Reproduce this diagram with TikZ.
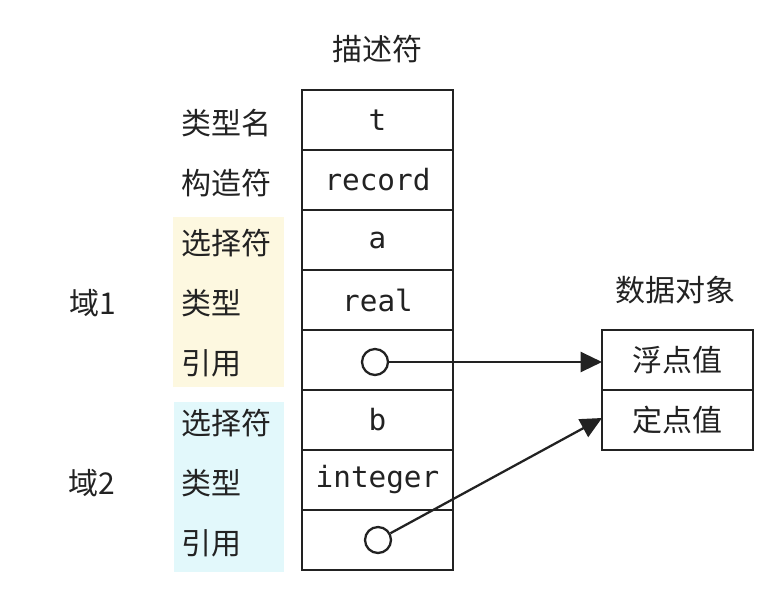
\documentclass[tikz,border=0pt]{standalone}
\usepackage{fontspec}
\setmainfont{Noto Sans CJK SC}
\setmonofont{DejaVu Sans Mono}
\usetikzlibrary{arrows.meta,positioning,calc}

\definecolor{lineclr}{HTML}{222222}
\definecolor{fieldone}{HTML}{FDF8E0}
\definecolor{fieldtwo}{HTML}{E2F8FB}

\begin{document}
\begin{tikzpicture}[
            x=0.75pt, y=-0.75pt,
            every node/.style={font=\fontsize{22.5pt}{27pt}\selectfont, text=lineclr},
            cell/.style={draw=lineclr, line width=1.7pt, rectangle, minimum width=113.25pt, minimum height=45pt, inner sep=0pt, outer sep=0pt, font=\ttfamily\fontsize{22pt}{26pt}\selectfont},
            lbl/.style={anchor=west, inner sep=0pt},
            grp/.style={rectangle, minimum width=83pt, minimum height=127.5pt, inner sep=0pt},
            ptr/.style={circle, draw=lineclr, line width=1.7pt, fill=white, minimum size=19.5pt, inner sep=0pt},
            link/.style={draw=lineclr, line width=1.7pt, -{Triangle[length=16pt, width=15pt]}}
        ]
            \useasboundingbox (0,0) rectangle (775,596);

            % field backgrounds
            \node[grp, fill=fieldone] (grpa) at (228.5,302) {};
            \node[grp, fill=fieldtwo] (grpb) at (229,487) {};

            % descriptor
            \node (desc) at (377.5,49) {描述符};
            \node[cell] (tname) at (377.5,120) {t};
            \node[cell, below=0pt of tname] (ctor) {record};
            \node[cell, below=0pt of ctor] (sela) {a};
            \node[cell, below=0pt of sela] (typea) {real};
            \node[cell, below=0pt of typea] (refa) {};
            \node[cell, below=0pt of refa] (selb) {b};
            \node[cell, below=0pt of selb] (typeb) {integer};
            \node[cell, below=0pt of typeb] (refb) {};

            % row labels
            \node[lbl] (lname) at (181,123) {类型名};
            \node[lbl] (lctor) at (181,183) {构造符};
            \node[lbl] (lsela) at (181,243) {选择符};
            \node[lbl] (ltypea) at (181,303) {类型};
            \node[lbl] (lrefa) at (181,363) {引用};
            \node[lbl] (lselb) at (181,423) {选择符};
            \node[lbl] (ltypeb) at (181,483) {类型};
            \node[lbl] (lrefb) at (181,543) {引用};
            \node (fielda) at (93,303) {域1};
            \node (fieldb) at (92,483) {域2};

            % data object
            \node (obj) at (675,290) {数据对象};
            \node[cell, font=\fontsize{22.5pt}{27pt}\selectfont] (flt) at (677.5,360) {浮点值};
            \node[cell, font=\fontsize{22.5pt}{27pt}\selectfont, below=0pt of flt] (fix) {定点值};

            % pointers
            \node[ptr] (pa) at (375,362) {};
            \node[ptr] (pb) at (378,540) {};
            \draw[link] (pa) -- (pa -| flt.west);
            \draw[link] (pb) -- ($(fix.west)+(0,-2)$);
        \end{tikzpicture}
\end{document}
